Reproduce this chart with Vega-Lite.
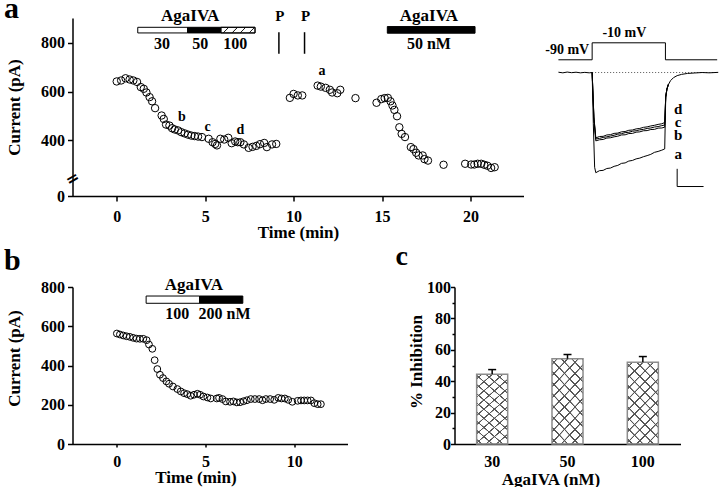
{
  "$schema": "https://vega.github.io/schema/vega-lite/v6.json",
  "background": "white",
  "padding": {"left": 3.5, "top": -7, "right": 0, "bottom": 0},
  "autosize": {"type": "pad"},
  "config": {
    "view": {"stroke": null},
    "font": "Liberation Serif",
    "axis": {"labelFont": "Liberation Serif", "labelFontWeight": "bold", "labelFontSize": 16, "labelColor": "black", "labelOverlap": false, "labelFlush": false, "titleFont": "Liberation Serif", "titleFontWeight": "bold", "titleFontSize": 17, "titleColor": "black", "domainColor": "black", "domainWidth": 1.5, "tickColor": "black", "tickWidth": 1.5, "grid": false},
    "text": {"font": "Liberation Serif", "fontWeight": "bold", "color": "black"}
  },
  "datasets": {
    "ptsA": [
      {"t":0,"v":641},{"t":0.25,"v":645},{"t":0.5,"v":654},{"t":0.73,"v":649},{"t":0.94,"v":645},{"t":1.15,"v":639},{"t":1.36,"v":618},{"t":1.53,"v":611},{"t":1.68,"v":596},{"t":1.86,"v":577},{"t":2.0,"v":560},{"t":2.17,"v":532},{"t":2.54,"v":502},{"t":2.66,"v":488},{"t":2.79,"v":465},{"t":2.98,"v":461},{"t":3.13,"v":450},{"t":3.28,"v":445},{"t":3.47,"v":441},{"t":3.65,"v":434},{"t":3.84,"v":429},{"t":4.03,"v":424},{"t":4.22,"v":420},{"t":4.41,"v":418},{"t":4.6,"v":416},{"t":4.82,"v":414},{"t":5.2,"v":407},{"t":5.42,"v":393},{"t":5.57,"v":386},{"t":5.67,"v":380},{"t":5.86,"v":407},{"t":6.08,"v":404},{"t":6.31,"v":411},{"t":6.5,"v":389},{"t":6.7,"v":396},{"t":6.84,"v":393},{"t":6.99,"v":393},{"t":7.19,"v":384},{"t":7.46,"v":370},{"t":7.68,"v":374},{"t":7.89,"v":378},{"t":8.1,"v":385},{"t":8.34,"v":390},{"t":8.49,"v":373},{"t":8.78,"v":384},{"t":9.02,"v":386},
      {"t":9.79,"v":574},{"t":10.0,"v":590},{"t":10.24,"v":584},{"t":10.49,"v":584},
      {"t":11.36,"v":624},{"t":11.54,"v":620},{"t":11.81,"v":615},{"t":12.05,"v":607},{"t":12.18,"v":596},{"t":12.47,"v":593},{"t":12.64,"v":607},
      {"t":13.5,"v":573},
      {"t":14.69,"v":554},{"t":14.96,"v":569},{"t":15.15,"v":573},{"t":15.33,"v":574},{"t":15.48,"v":560},{"t":15.59,"v":543},{"t":15.7,"v":525},{"t":15.85,"v":499},{"t":15.98,"v":454},{"t":16.11,"v":427},{"t":16.3,"v":414},{"t":16.63,"v":373},{"t":16.78,"v":365},{"t":16.93,"v":350},{"t":17.07,"v":339},{"t":17.3,"v":339},{"t":17.4,"v":324},{"t":17.6,"v":318},{"t":18.48,"v":301},{"t":19.7,"v":305},{"t":20.04,"v":302},{"t":20.22,"v":302},{"t":20.41,"v":305},{"t":20.61,"v":305},{"t":20.78,"v":301},{"t":20.96,"v":297},{"t":21.17,"v":288},{"t":21.37,"v":291}
    ],
    "barsA": [
      {"x0":1.19,"x1":4.01,"y0":839,"y1":862,"kind":"open"},
      {"x0":4.01,"x1":5.89,"y0":839,"y1":862,"kind":"solid"},
      {"x0":5.89,"x1":7.82,"y0":839,"y1":862,"kind":"hatch"},
      {"x0":15.3,"x1":20.26,"y0":838,"y1":865,"kind":"solid"}
    ],
    "pA": [{"t":9.17,"v0":754,"v1":842},{"t":10.62,"v0":754,"v1":842}],
    "txtA": [
      {"t":4.15,"v":910,"label":"AgaIVA","role":"head"},
      {"t":2.56,"v":795,"label":"30","role":"dose"},
      {"t":4.73,"v":795,"label":"50","role":"dose"},
      {"t":6.7,"v":795,"label":"100","role":"dose"},
      {"t":9.22,"v":910,"label":"P","role":"P"},
      {"t":10.68,"v":910,"label":"P","role":"P"},
      {"t":17.65,"v":910,"label":"AgaIVA","role":"head"},
      {"t":17.65,"v":795,"label":"50 nM","role":"dose"},
      {"t":11.6,"v":683,"label":"a","role":"pt"},
      {"t":3.69,"v":495,"label":"b","role":"pt"},
      {"t":5.14,"v":457,"label":"c","role":"pt"},
      {"t":6.99,"v":444,"label":"d","role":"pt"}
    ],
    "panelA": [{"t":-6.373,"v":902,"label":"a"}],
    "ptsB": [
      {"t":0,"v":563},{"t":0.17,"v":558},{"t":0.36,"v":553},{"t":0.55,"v":549},{"t":0.73,"v":546},{"t":0.92,"v":541},{"t":1.11,"v":537},{"t":1.3,"v":536},{"t":1.49,"v":536},{"t":1.68,"v":529},{"t":1.81,"v":507},{"t":2.0,"v":485},{"t":2.13,"v":427},{"t":2.28,"v":382},{"t":2.43,"v":353},{"t":2.6,"v":336},{"t":2.79,"v":319},{"t":2.94,"v":307},{"t":3.16,"v":293},{"t":3.41,"v":280},{"t":3.6,"v":268},{"t":3.79,"v":259},{"t":3.97,"v":254},{"t":4.16,"v":246},{"t":4.35,"v":251},{"t":4.54,"v":256},{"t":4.69,"v":251},{"t":4.88,"v":242},{"t":5.1,"v":237},{"t":5.29,"v":232},{"t":5.63,"v":232},{"t":5.76,"v":235},{"t":5.95,"v":229},{"t":6.14,"v":217},{"t":6.38,"v":215},{"t":6.57,"v":217},{"t":6.76,"v":212},{"t":6.95,"v":213},{"t":7.14,"v":218},{"t":7.33,"v":223},{"t":7.55,"v":229},{"t":7.78,"v":229},{"t":8.02,"v":229},{"t":8.21,"v":223},{"t":8.4,"v":229},{"t":8.64,"v":229},{"t":8.87,"v":225},{"t":9.1,"v":235},{"t":9.28,"v":232},{"t":9.47,"v":232},{"t":9.66,"v":225},{"t":9.89,"v":215},{"t":10.19,"v":220},{"t":10.38,"v":222},{"t":10.56,"v":222},{"t":10.75,"v":222},{"t":10.94,"v":222},{"t":11.13,"v":208},{"t":11.32,"v":203},{"t":11.5,"v":203}
    ],
    "barsB": [
      {"x0":1.65,"x1":4.66,"y0":717,"y1":754,"kind":"open"},
      {"x0":4.66,"x1":7.1,"y0":717,"y1":754,"kind":"solid"}
    ],
    "txtB": [
      {"t":4.34,"v":812,"label":"AgaIVA","role":"head"},
      {"t":3.4,"v":662,"label":"100","role":"dose"},
      {"t":6.07,"v":662,"label":"200 nM","role":"dose"}
    ],
    "panelB": [{"t":-6.361,"v":886.6,"label":"b"}],
    "panelC": [{"t":15.705,"v":912,"label":"c"}],
    "barsC": [
      {"conc":"30","m":44.4,"hi":47.4},
      {"conc":"50","m":54.3,"hi":57.0},
      {"conc":"100","m":52.1,"hi":55.7}
    ],
    "vstep": [
      {"i":0,"t":-23,"mv":-90},{"i":1,"t":0,"mv":-90},{"i":2,"t":0,"mv":-10},{"i":3,"t":50,"mv":-10},{"i":4,"t":50,"mv":-90},{"i":5,"t":85.3,"mv":-90}
    ],
    "vlab": [
      {"t":-17,"mv":-46,"label":"-90 mV"},
      {"t":22,"mv":37,"label":"-10 mV"}
    ],
    "traces": [
      {"tr":"a","t":-23,"I":2},{"tr":"a","t":-20,"I":-2},{"tr":"a","t":-17,"I":3},{"tr":"a","t":-14,"I":-1},{"tr":"a","t":-11,"I":2},{"tr":"a","t":-8,"I":-2},{"tr":"a","t":-5,"I":1},{"tr":"a","t":-2,"I":-2},{"tr":"a","t":0,"I":0},
      {"tr":"a","t":0.8,"I":-330},{"tr":"a","t":1.7,"I":-610},{"tr":"a","t":2.5,"I":-645},{"tr":"a","t":5,"I":-632},{"tr":"a","t":7.5,"I":-630},{"tr":"a","t":10,"I":-618},{"tr":"a","t":12.5,"I":-615},{"tr":"a","t":15,"I":-604},{"tr":"a","t":17.5,"I":-598},{"tr":"a","t":20,"I":-585},{"tr":"a","t":22.5,"I":-582},{"tr":"a","t":25,"I":-570},{"tr":"a","t":27.5,"I":-566},{"tr":"a","t":30,"I":-556},{"tr":"a","t":32.5,"I":-551},{"tr":"a","t":35,"I":-542},{"tr":"a","t":37.5,"I":-535},{"tr":"a","t":40,"I":-527},{"tr":"a","t":42.5,"I":-514},{"tr":"a","t":45,"I":-508},{"tr":"a","t":47.5,"I":-500},{"tr":"a","t":49.5,"I":-492},
      {"tr":"a","t":50.2,"I":-160},{"tr":"a","t":51,"I":-110},{"tr":"a","t":52,"I":-78},{"tr":"a","t":53.5,"I":-52},{"tr":"a","t":55.5,"I":-33},{"tr":"a","t":58,"I":-20},{"tr":"a","t":61,"I":-12},{"tr":"a","t":65,"I":-6},{"tr":"a","t":70,"I":-3},{"tr":"a","t":75,"I":0},{"tr":"a","t":80,"I":-2},{"tr":"a","t":86,"I":1},
      {"tr":"b","t":0,"I":0},{"tr":"b","t":1.2,"I":-300},{"tr":"b","t":2.5,"I":-440},{"tr":"b","t":5,"I":-433},{"tr":"b","t":7.5,"I":-431},{"tr":"b","t":10,"I":-422},{"tr":"b","t":12.5,"I":-420},{"tr":"b","t":15,"I":-414},{"tr":"b","t":17.5,"I":-410},{"tr":"b","t":20,"I":-402},{"tr":"b","t":22.5,"I":-401},{"tr":"b","t":25,"I":-393},{"tr":"b","t":27.5,"I":-392},{"tr":"b","t":30,"I":-384},{"tr":"b","t":32.5,"I":-382},{"tr":"b","t":35,"I":-375},{"tr":"b","t":37.5,"I":-374},{"tr":"b","t":40,"I":-367},{"tr":"b","t":42.5,"I":-366},{"tr":"b","t":45,"I":-358},{"tr":"b","t":47.5,"I":-357},{"tr":"b","t":49.5,"I":-352},{"tr":"b","t":50.2,"I":-158},{"tr":"b","t":51,"I":-108},{"tr":"b","t":52,"I":-77},
      {"tr":"c","t":0,"I":0},{"tr":"c","t":1.2,"I":-290},{"tr":"c","t":2.5,"I":-428},{"tr":"c","t":5,"I":-424},{"tr":"c","t":7.5,"I":-418},{"tr":"c","t":10,"I":-414},{"tr":"c","t":12.5,"I":-409},{"tr":"c","t":15,"I":-404},{"tr":"c","t":17.5,"I":-397},{"tr":"c","t":20,"I":-394},{"tr":"c","t":22.5,"I":-387},{"tr":"c","t":25,"I":-385},{"tr":"c","t":27.5,"I":-378},{"tr":"c","t":30,"I":-375},{"tr":"c","t":32.5,"I":-369},{"tr":"c","t":35,"I":-366},{"tr":"c","t":37.5,"I":-360},{"tr":"c","t":40,"I":-357},{"tr":"c","t":42.5,"I":-351},{"tr":"c","t":45,"I":-348},{"tr":"c","t":47.5,"I":-342},{"tr":"c","t":49.5,"I":-338},{"tr":"c","t":50.2,"I":-156},{"tr":"c","t":51,"I":-107},{"tr":"c","t":52,"I":-76},
      {"tr":"d","t":0,"I":0},{"tr":"d","t":1.2,"I":-285},{"tr":"d","t":2.5,"I":-421},{"tr":"d","t":5,"I":-412},{"tr":"d","t":7.5,"I":-411},{"tr":"d","t":10,"I":-402},{"tr":"d","t":12.5,"I":-400},{"tr":"d","t":15,"I":-392},{"tr":"d","t":17.5,"I":-390},{"tr":"d","t":20,"I":-382},{"tr":"d","t":22.5,"I":-380},{"tr":"d","t":25,"I":-372},{"tr":"d","t":27.5,"I":-370},{"tr":"d","t":30,"I":-363},{"tr":"d","t":32.5,"I":-360},{"tr":"d","t":35,"I":-353},{"tr":"d","t":37.5,"I":-350},{"tr":"d","t":40,"I":-344},{"tr":"d","t":42.5,"I":-340},{"tr":"d","t":45,"I":-334},{"tr":"d","t":47.5,"I":-330},{"tr":"d","t":49.5,"I":-322},{"tr":"d","t":50.2,"I":-154},{"tr":"d","t":51,"I":-106},{"tr":"d","t":52,"I":-75}
    ],
    "tlab": [
      {"t":58.7,"I":-234,"label":"d"},
      {"t":58.7,"I":-320,"label":"c"},
      {"t":58.7,"I":-401,"label":"b"},
      {"t":58.7,"I":-524,"label":"a"}
    ],
    "sbar": [
      {"t":58,"t2":58,"I":-620,"I2":-734},
      {"t":58,"t2":76,"I":-734,"I2":-734}
    ]
  },
  "vconcat": [
    {
      "hconcat": [
        {
          "width": 451, "height": 178,
          "layer": [
            {
              "data": {"name": "ptsA"},
              "mark": {"type": "point", "shape": "circle", "filled": false, "stroke": "black", "strokeWidth": 1, "size": 55, "opacity": 1},
              "encoding": {
                "x": {"field": "t", "type": "quantitative", "scale": {"domain": [-2.5, 23], "nice": false, "zero": false}, "axis": {"title": "Time (min)", "values": [0, 5, 10, 15, 20], "tickCount": 20, "tickSize": 5, "labelPadding": 7, "titlePadding": 0, "labelOverlap": false}},
                "y": {"field": "v", "type": "quantitative", "scale": {"domain": [0, 250, 900], "range": [178, 159.25, 0], "nice": false, "zero": false}, "axis": {"title": "Current (pA)", "values": [0, 400, 600, 800], "tickCount": 20, "tickSize": 5, "labelPadding": 3, "minExtent": 40, "maxExtent": 40, "titlePadding": 9, "labelOverlap": false}}
              }
            },
            {
              "data": {"name": "barsA"},
              "mark": {"type": "rect", "stroke": "black", "strokeWidth": 1},
              "encoding": {
                "x": {"field": "x0", "type": "quantitative"},
                "x2": {"field": "x1"},
                "y": {"field": "y0", "type": "quantitative"},
                "y2": {"field": "y1"},
                "fill": {"field": "kind", "type": "nominal", "scale": {"domain": ["open", "solid", "hatch"], "range": ["white", "black", "white"]}, "legend": null}
              }
            },
            {
              "data": {"name": "barsA"},
              "transform": [{"filter": "datum.kind === 'hatch'"}],
              "mark": {"type": "rect", "stroke": "black", "strokeWidth": 1, "fill": {"gradient": "linear", "x1": 0, "y1": 0, "x2": 1, "y2": 0.164, "stops": [
                {"offset": 0, "color": "rgba(34,34,34,0)"},
                {"offset": 0.207, "color": "rgba(34,34,34,0)"}, {"offset": 0.217, "color": "#222222"}, {"offset": 0.241, "color": "#222222"}, {"offset": 0.251, "color": "rgba(34,34,34,0)"},
                {"offset": 0.449, "color": "rgba(34,34,34,0)"}, {"offset": 0.459, "color": "#222222"}, {"offset": 0.483, "color": "#222222"}, {"offset": 0.493, "color": "rgba(34,34,34,0)"},
                {"offset": 0.692, "color": "rgba(34,34,34,0)"}, {"offset": 0.702, "color": "#222222"}, {"offset": 0.726, "color": "#222222"}, {"offset": 0.736, "color": "rgba(34,34,34,0)"},
                {"offset": 0.935, "color": "rgba(34,34,34,0)"}, {"offset": 0.945, "color": "#222222"}, {"offset": 0.969, "color": "#222222"}, {"offset": 0.979, "color": "rgba(34,34,34,0)"},
                {"offset": 1, "color": "rgba(34,34,34,0)"}
              ]}},
              "encoding": {
                "x": {"field": "x0", "type": "quantitative"},
                "x2": {"field": "x1"},
                "y": {"field": "y0", "type": "quantitative"},
                "y2": {"field": "y1"}
              }
            },
            {
              "data": {"name": "pA"},
              "mark": {"type": "rule", "color": "black", "strokeWidth": 1.5},
              "encoding": {
                "x": {"field": "t", "type": "quantitative"},
                "y": {"field": "v0", "type": "quantitative"},
                "y2": {"field": "v1"}
              }
            },
            {
              "data": {"name": "txtA"},
              "mark": {"type": "text", "font": "Liberation Serif", "fontWeight": "bold", "color": "black", "baseline": "middle"},
              "encoding": {
                "x": {"field": "t", "type": "quantitative"},
                "y": {"field": "v", "type": "quantitative"},
                "text": {"field": "label"},
                "size": {"field": "role", "type": "nominal", "scale": {"domain": ["head", "dose", "P", "pt"], "range": [17, 14, 17, 16]}, "legend": null}
              }
            },
            {
              "data": {"name": "panelA"},
              "mark": {"type": "text", "font": "Liberation Serif", "fontWeight": "bold", "color": "black", "fontSize": 30, "align": "left", "baseline": "alphabetic"},
              "encoding": {
                "x": {"field": "t", "type": "quantitative"},
                "y": {"field": "v", "type": "quantitative"},
                "text": {"field": "label"}
              }
            },
            {
              "data": {"values": [{}]},
              "mark": {"type": "text", "text": "=", "angle": -30, "fontSize": 16, "font": "DejaVu Sans", "color": "black"},
              "encoding": {
                "x": {"datum": -2.5, "type": "quantitative"},
                "y": {"datum": 230, "type": "quantitative"}
              }
            }
          ]
        },
        {
          "width": 163, "height": 178,
          "layer": [
            {
              "data": {"name": "vstep"},
              "mark": {"type": "line", "color": "black", "strokeWidth": 1},
              "encoding": {
                "x": {"field": "t", "type": "quantitative", "scale": {"domain": [-25, 86.2], "nice": false, "zero": false}, "axis": null},
                "y": {"field": "mv", "type": "quantitative", "scale": {"domain": [-731, 106.7], "nice": false, "zero": false}, "axis": null},
                "order": {"field": "i"}
              }
            },
            {
              "data": {"name": "vlab"},
              "mark": {"type": "text", "fontSize": 14, "font": "Liberation Serif", "fontWeight": "bold", "color": "black"},
              "encoding": {
                "x": {"field": "t", "type": "quantitative", "axis": null},
                "y": {"field": "mv", "type": "quantitative", "scale": {"domain": [-731, 106.7], "nice": false, "zero": false}, "axis": null},
                "text": {"field": "label"}
              }
            },
            {
              "data": {"values": [{}]},
              "mark": {"type": "rule", "color": "#555555", "strokeWidth": 1, "strokeDash": [1, 2]},
              "encoding": {
                "x": {"datum": 0, "type": "quantitative", "axis": null},
                "x2": {"datum": 86},
                "y": {"datum": 0, "type": "quantitative", "scale": {"domain": [-795, 351], "nice": false, "zero": false}, "axis": null}
              }
            },
            {
              "data": {"name": "traces"},
              "mark": {"type": "line", "color": "black", "strokeWidth": 1},
              "encoding": {
                "x": {"field": "t", "type": "quantitative", "axis": null},
                "y": {"field": "I", "type": "quantitative", "scale": {"domain": [-795, 351], "nice": false, "zero": false}, "axis": null},
                "detail": {"field": "tr"}
              }
            },
            {
              "data": {"name": "tlab"},
              "mark": {"type": "text", "fontSize": 15, "font": "Liberation Serif", "fontWeight": "bold", "color": "black"},
              "encoding": {
                "x": {"field": "t", "type": "quantitative", "axis": null},
                "y": {"field": "I", "type": "quantitative", "scale": {"domain": [-795, 351], "nice": false, "zero": false}, "axis": null},
                "text": {"field": "label"}
              }
            },
            {
              "data": {"name": "sbar"},
              "mark": {"type": "rule", "color": "black", "strokeWidth": 1},
              "encoding": {
                "x": {"field": "t", "type": "quantitative", "axis": null},
                "x2": {"field": "t2"},
                "y": {"field": "I", "type": "quantitative", "scale": {"domain": [-795, 351], "nice": false, "zero": false}, "axis": null},
                "y2": {"field": "I2"}
              }
            }
          ],
          "resolve": {"scale": {"y": "independent"}}
        }
      ],
      "spacing": 32,
      "bounds": "flush"
    },
    {
      "hconcat": [
        {
          "width": 275, "height": 157,
          "layer": [
            {
              "data": {"name": "ptsB"},
              "mark": {"type": "point", "shape": "circle", "filled": false, "stroke": "black", "strokeWidth": 1, "size": 46, "opacity": 1},
              "encoding": {
                "x": {"field": "t", "type": "quantitative", "scale": {"domain": [-2.5, 13], "nice": false, "zero": false}, "axis": {"title": "Time (min)", "values": [0, 5, 10], "tickCount": 20, "tickSize": 3, "labelPadding": 6, "titlePadding": 0, "titleX": 123, "labelOverlap": false}},
                "y": {"field": "v", "type": "quantitative", "scale": {"domain": [0, 800], "nice": false, "zero": false}, "axis": {"title": "Current (pA)", "values": [0, 200, 400, 600, 800], "tickCount": 20, "tickSize": 5, "labelPadding": 3, "minExtent": 40, "maxExtent": 40, "titlePadding": 9, "titleY": 71, "labelOverlap": false}}
              }
            },
            {
              "data": {"name": "barsB"},
              "mark": {"type": "rect", "stroke": "black", "strokeWidth": 1},
              "encoding": {
                "x": {"field": "x0", "type": "quantitative"},
                "x2": {"field": "x1"},
                "y": {"field": "y0", "type": "quantitative"},
                "y2": {"field": "y1"},
                "fill": {"field": "kind", "type": "nominal", "scale": {"domain": ["open", "solid"], "range": ["white", "black"]}, "legend": null}
              }
            },
            {
              "data": {"name": "txtB"},
              "mark": {"type": "text", "font": "Liberation Serif", "fontWeight": "bold", "color": "black", "baseline": "middle"},
              "encoding": {
                "x": {"field": "t", "type": "quantitative"},
                "y": {"field": "v", "type": "quantitative"},
                "text": {"field": "label"},
                "size": {"field": "role", "type": "nominal", "scale": {"domain": ["head", "dose"], "range": [15, 14]}, "legend": null}
              }
            },
            {
              "data": {"name": "panelB"},
              "mark": {"type": "text", "font": "Liberation Serif", "fontWeight": "bold", "color": "black", "fontSize": 30, "align": "left", "baseline": "alphabetic"},
              "encoding": {
                "x": {"field": "t", "type": "quantitative"},
                "y": {"field": "v", "type": "quantitative"},
                "text": {"field": "label"}
              }
            },
            {
              "data": {"name": "panelC"},
              "mark": {"type": "text", "font": "Liberation Serif", "fontWeight": "bold", "color": "black", "fontSize": 28, "align": "left", "baseline": "alphabetic"},
              "encoding": {
                "x": {"field": "t", "type": "quantitative"},
                "y": {"field": "v", "type": "quantitative"},
                "text": {"field": "label"}
              }
            }
          ]
        },
        {
          "width": 226, "height": 157,
          "data": {"name": "barsC"},
          "encoding": {
            "x": {"field": "conc", "type": "ordinal", "sort": ["30", "50", "100"], "scale": {"paddingInner": 0.588, "paddingOuter": 0.294}, "axis": {"title": "AgaIVA (nM)", "labelAngle": 0, "tickSize": 0, "labelPadding": 9, "titlePadding": 2, "titleX": 96}}
          },
          "layer": [
            {
              "mark": {"type": "bar", "fill": {"gradient": "linear", "x1": 0, "y1": 0, "x2": 0.5, "y2": 1.29, "stops": [
                {"offset": 0, "color": "rgba(85,85,85,0)"},
                {"offset": 0.035, "color": "rgba(85,85,85,0)"}, {"offset": 0.039, "color": "#555555"}, {"offset": 0.049, "color": "#555555"}, {"offset": 0.053, "color": "rgba(85,85,85,0)"},
                {"offset": 0.1235, "color": "rgba(85,85,85,0)"}, {"offset": 0.1275, "color": "#555555"}, {"offset": 0.1375, "color": "#555555"}, {"offset": 0.1415, "color": "rgba(85,85,85,0)"},
                {"offset": 0.212, "color": "rgba(85,85,85,0)"}, {"offset": 0.216, "color": "#555555"}, {"offset": 0.226, "color": "#555555"}, {"offset": 0.23, "color": "rgba(85,85,85,0)"},
                {"offset": 0.3005, "color": "rgba(85,85,85,0)"}, {"offset": 0.3045, "color": "#555555"}, {"offset": 0.3145, "color": "#555555"}, {"offset": 0.3185, "color": "rgba(85,85,85,0)"},
                {"offset": 0.389, "color": "rgba(85,85,85,0)"}, {"offset": 0.393, "color": "#555555"}, {"offset": 0.403, "color": "#555555"}, {"offset": 0.407, "color": "rgba(85,85,85,0)"},
                {"offset": 0.4775, "color": "rgba(85,85,85,0)"}, {"offset": 0.4815, "color": "#555555"}, {"offset": 0.4915, "color": "#555555"}, {"offset": 0.4955, "color": "rgba(85,85,85,0)"},
                {"offset": 0.566, "color": "rgba(85,85,85,0)"}, {"offset": 0.57, "color": "#555555"}, {"offset": 0.58, "color": "#555555"}, {"offset": 0.584, "color": "rgba(85,85,85,0)"},
                {"offset": 0.6545, "color": "rgba(85,85,85,0)"}, {"offset": 0.6585, "color": "#555555"}, {"offset": 0.6685, "color": "#555555"}, {"offset": 0.6725, "color": "rgba(85,85,85,0)"},
                {"offset": 0.743, "color": "rgba(85,85,85,0)"}, {"offset": 0.747, "color": "#555555"}, {"offset": 0.757, "color": "#555555"}, {"offset": 0.761, "color": "rgba(85,85,85,0)"},
                {"offset": 0.8315, "color": "rgba(85,85,85,0)"}, {"offset": 0.8355, "color": "#555555"}, {"offset": 0.8455, "color": "#555555"}, {"offset": 0.8495, "color": "rgba(85,85,85,0)"},
                {"offset": 0.92, "color": "rgba(85,85,85,0)"}, {"offset": 0.924, "color": "#555555"}, {"offset": 0.934, "color": "#555555"}, {"offset": 0.938, "color": "rgba(85,85,85,0)"},
                {"offset": 1, "color": "rgba(85,85,85,0)"}
              ]}},
              "encoding": {
                "y": {"field": "m", "type": "quantitative", "scale": {"domain": [0, 100], "nice": false}, "axis": {"title": "% Inhibition", "values": [0, 10, 20, 30, 40, 50, 60, 70, 80, 90, 100], "tickCount": 30, "labelExpr": "datum.value % 20 === 0 ? datum.label : ''", "tickSize": {"condition": {"test": "datum.value % 20 === 0", "value": 4}, "value": 2.5}, "labelPadding": 0, "minExtent": 28, "maxExtent": 28, "titlePadding": 1, "titleY": 74.5, "labelOverlap": false}}
              }
            },
            {
              "mark": {"type": "bar", "stroke": "#8c8c8c", "strokeWidth": 1.5, "fill": {"gradient": "linear", "x1": 0, "y1": 1, "x2": 0.5, "y2": -0.29, "stops": [
                {"offset": 0, "color": "rgba(85,85,85,0)"},
                {"offset": 0.035, "color": "rgba(85,85,85,0)"}, {"offset": 0.039, "color": "#555555"}, {"offset": 0.049, "color": "#555555"}, {"offset": 0.053, "color": "rgba(85,85,85,0)"},
                {"offset": 0.1235, "color": "rgba(85,85,85,0)"}, {"offset": 0.1275, "color": "#555555"}, {"offset": 0.1375, "color": "#555555"}, {"offset": 0.1415, "color": "rgba(85,85,85,0)"},
                {"offset": 0.212, "color": "rgba(85,85,85,0)"}, {"offset": 0.216, "color": "#555555"}, {"offset": 0.226, "color": "#555555"}, {"offset": 0.23, "color": "rgba(85,85,85,0)"},
                {"offset": 0.3005, "color": "rgba(85,85,85,0)"}, {"offset": 0.3045, "color": "#555555"}, {"offset": 0.3145, "color": "#555555"}, {"offset": 0.3185, "color": "rgba(85,85,85,0)"},
                {"offset": 0.389, "color": "rgba(85,85,85,0)"}, {"offset": 0.393, "color": "#555555"}, {"offset": 0.403, "color": "#555555"}, {"offset": 0.407, "color": "rgba(85,85,85,0)"},
                {"offset": 0.4775, "color": "rgba(85,85,85,0)"}, {"offset": 0.4815, "color": "#555555"}, {"offset": 0.4915, "color": "#555555"}, {"offset": 0.4955, "color": "rgba(85,85,85,0)"},
                {"offset": 0.566, "color": "rgba(85,85,85,0)"}, {"offset": 0.57, "color": "#555555"}, {"offset": 0.58, "color": "#555555"}, {"offset": 0.584, "color": "rgba(85,85,85,0)"},
                {"offset": 0.6545, "color": "rgba(85,85,85,0)"}, {"offset": 0.6585, "color": "#555555"}, {"offset": 0.6685, "color": "#555555"}, {"offset": 0.6725, "color": "rgba(85,85,85,0)"},
                {"offset": 0.743, "color": "rgba(85,85,85,0)"}, {"offset": 0.747, "color": "#555555"}, {"offset": 0.757, "color": "#555555"}, {"offset": 0.761, "color": "rgba(85,85,85,0)"},
                {"offset": 0.8315, "color": "rgba(85,85,85,0)"}, {"offset": 0.8355, "color": "#555555"}, {"offset": 0.8455, "color": "#555555"}, {"offset": 0.8495, "color": "rgba(85,85,85,0)"},
                {"offset": 0.92, "color": "rgba(85,85,85,0)"}, {"offset": 0.924, "color": "#555555"}, {"offset": 0.934, "color": "#555555"}, {"offset": 0.938, "color": "rgba(85,85,85,0)"},
                {"offset": 1, "color": "rgba(85,85,85,0)"}
              ]}},
              "encoding": {
                "y": {"field": "m", "type": "quantitative"}
              }
            },
            {
              "mark": {"type": "rule", "color": "black", "strokeWidth": 1.5},
              "encoding": {
                "y": {"field": "m", "type": "quantitative"},
                "y2": {"field": "hi"}
              }
            },
            {
              "mark": {"type": "tick", "color": "black", "thickness": 1.5, "size": 8, "opacity": 1},
              "encoding": {
                "y": {"field": "hi", "type": "quantitative"}
              }
            }
          ]
        }
      ],
      "spacing": 107,
      "bounds": "flush"
    }
  ],
  "spacing": 3
}
